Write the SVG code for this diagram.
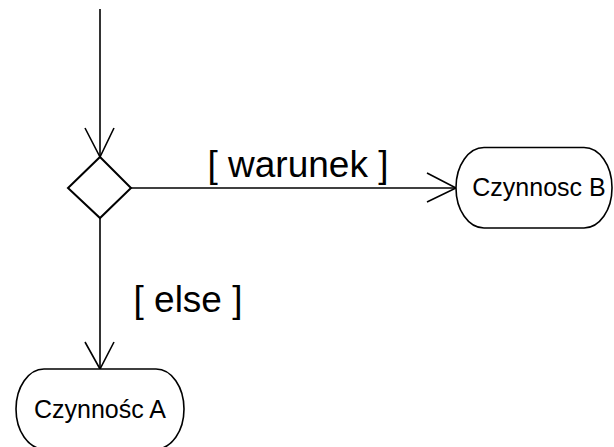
<svg xmlns="http://www.w3.org/2000/svg" width="614" height="447" viewBox="0 0 614 447">
  <style>
    .edge { fill: none; stroke: #000; stroke-width: 1.6; }
    .node { fill: #fff; stroke: #000; stroke-width: 1.6; }
    .decision { fill: #fff; stroke: #000; stroke-width: 2; }
    .nlabel { font-family: "Liberation Sans", Arial, sans-serif; font-size: 25px; fill: #000; text-anchor: middle; }
    .guard { font-family: "Liberation Sans", Arial, sans-serif; font-size: 37px; fill: #000; text-anchor: middle; }
  </style>
  <rect width="614" height="447" fill="#fff"/>

  <g id="connectors">
    <!-- incoming flow -->
    <line class="edge" x1="100" y1="9" x2="100" y2="157"/>
    <polyline class="edge" points="85,128 100,157 114,128"/>
    <!-- [ warunek ] branch -->
    <line class="edge" x1="131" y1="188" x2="456" y2="188"/>
    <polyline class="edge" points="427,173 456,188 427,202"/>
    <!-- [ else ] branch -->
    <line class="edge" x1="100" y1="218" x2="100" y2="369"/>
    <polyline class="edge" points="85,342 100,369 114,342"/>
  </g>

  <g id="guard-warunek">
    <text class="guard" x="298" y="177">[ warunek ]</text>
  </g>
  <g id="guard-else">
    <text class="guard" x="188" y="312">[ else ]</text>
  </g>

  <g id="decision">
    <polygon class="decision" points="100,157 131,188 100,218 68,188"/>
  </g>

  <g id="czynnosc-b">
    <rect class="node" x="456" y="147.5" width="156" height="80.5" rx="28" ry="40"/>
    <text class="nlabel" x="539" y="196">Czynnosc B</text>
  </g>

  <g id="czynnosc-a">
    <rect class="node" x="16" y="369" width="168" height="80" rx="28" ry="40"/>
    <text class="nlabel" x="100" y="418">Czynnośc A</text>
  </g>
</svg>
